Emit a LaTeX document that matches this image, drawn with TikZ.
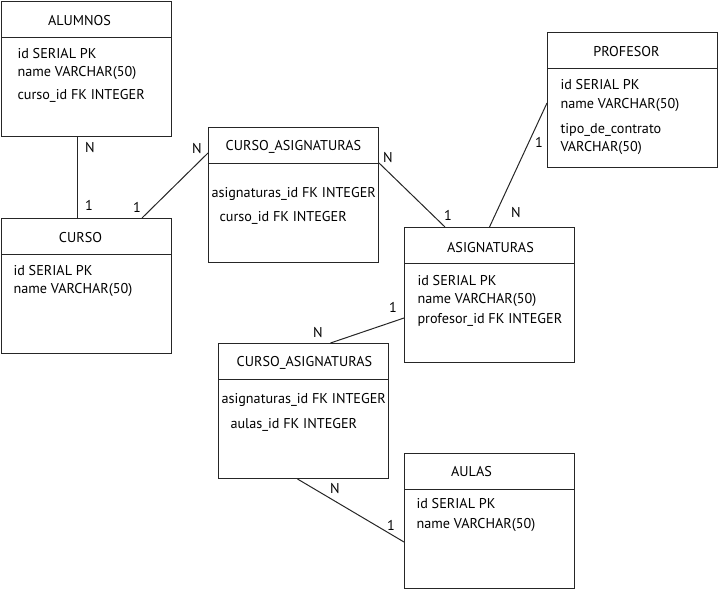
\documentclass[tikz,border=0pt]{standalone}
\usepackage{fontspec}
\setmainfont{PT Sans}
\usetikzlibrary{positioning}

\begin{document}
\begin{tikzpicture}[x=1pt,y=-1pt,line width=1pt,draw=black!85,
                    tabla/.style={draw=black!85,anchor=north west,minimum width=170pt,minimum height=135pt,inner sep=0pt},
                    titulo/.style={font=\fontsize{14.2}{16}\selectfont,inner sep=0pt},
                    campo/.style={font=\fontsize{14.2}{16}\selectfont,anchor=west,inner sep=0pt},
                    card/.style={font=\fontsize{14.2}{16}\selectfont,inner sep=0pt}]
                    \useasboundingbox (0,0) rectangle (718,589);

                    % tablas
                    \node[tabla] (alumnos) at (1,1) {};
                    \node[tabla] (curso) at (1,218) {};
                    \node[tabla] (cursoasig) at (208,127) {};
                    \node[tabla] (profesor) at (547,32) {};
                    \node[tabla] (asignaturas) at (404,227) {};
                    \node[tabla] (aulasasig) at (218,343) {};
                    \node[tabla] (aulas) at (404,453) {};

                    \foreach \t in {alumnos,curso,cursoasig,profesor,asignaturas,aulasasig,aulas}
                        \draw ([yshift=-36pt]\t.north west) -- ([yshift=-36pt]\t.north east);

                    % titulos
                    \node[titulo] (talumnos) at ([xshift=-7pt,yshift=-20pt]alumnos.north) {ALUMNOS};
                    \node[titulo] (tcurso) at ([xshift=-6pt,yshift=-20pt]curso.north) {CURSO};
                    \node[titulo] (tcursoasig) at ([yshift=-20pt]cursoasig.north) {CURSO\_ASIGNATURAS};
                    \node[titulo] (tprofesor) at ([xshift=-6pt,yshift=-20pt]profesor.north) {PROFESOR};
                    \node[titulo] (tasignaturas) at ([xshift=1pt,yshift=-21pt]asignaturas.north) {ASIGNATURAS};
                    \node[titulo] (taulasasig) at ([xshift=1pt,yshift=-20pt]aulasasig.north) {CURSO\_ASIGNATURAS};
                    \node[titulo] (taulas) at ([xshift=-18pt,yshift=-19pt]aulas.north) {AULAS};

                    % campos
                    \node[campo] (a1) at ([xshift=16pt,yshift=-53pt]alumnos.north west) {id SERIAL PK};
                    \node[campo] (a2) at ([xshift=16pt,yshift=-72pt]alumnos.north west) {name VARCHAR(50)};
                    \node[campo] (a3) at ([xshift=16pt,yshift=-95pt]alumnos.north west) {curso\_id FK INTEGER};

                    \node[campo] (c1) at ([xshift=12pt,yshift=-53pt]curso.north west) {id SERIAL PK};
                    \node[campo] (c2) at ([xshift=12pt,yshift=-72pt]curso.north west) {name VARCHAR(50)};

                    \node[campo] (ca1) at ([xshift=3pt,yshift=-67pt]cursoasig.north west) {asignaturas\_id FK INTEGER};
                    \node[campo] (ca2) at ([xshift=11pt,yshift=-91pt]cursoasig.north west) {curso\_id FK INTEGER};

                    \node[campo] (p1) at ([xshift=13pt,yshift=-53pt]profesor.north west) {id SERIAL PK};
                    \node[campo] (p2) at ([xshift=13pt,yshift=-73pt]profesor.north west) {name VARCHAR(50)};
                    \node[campo] (p3) at ([xshift=13pt,yshift=-98pt]profesor.north west) {tipo\_de\_contrato};
                    \node[campo] (p4) at ([xshift=13pt,yshift=-116pt]profesor.north west) {VARCHAR(50)};

                    \node[campo] (s1) at ([xshift=13pt,yshift=-54pt]asignaturas.north west) {id SERIAL PK};
                    \node[campo] (s2) at ([xshift=13pt,yshift=-73pt]asignaturas.north west) {name VARCHAR(50)};
                    \node[campo] (s3) at ([xshift=13pt,yshift=-93pt]asignaturas.north west) {profesor\_id FK INTEGER};

                    \node[campo] (u1) at ([xshift=3pt,yshift=-57pt]aulasasig.north west) {asignaturas\_id FK INTEGER};
                    \node[campo] (u2) at ([xshift=12pt,yshift=-82pt]aulasasig.north west) {aulas\_id FK INTEGER};

                    \node[campo] (l1) at ([xshift=12pt,yshift=-51pt]aulas.north west) {id SERIAL PK};
                    \node[campo] (l2) at ([xshift=12pt,yshift=-72pt]aulas.north west) {name VARCHAR(50)};

                    % relaciones
                    \draw ([xshift=-9pt]alumnos.south) -- ([xshift=-9pt]curso.north);
                    \draw ([xshift=-30pt]curso.north east) -- ([yshift=-26pt]cursoasig.north west);
                    \draw ([yshift=-36pt]cursoasig.north east) -- ([xshift=41pt]asignaturas.north west);
                    \draw (asignaturas.north) -- ([yshift=-71pt]profesor.north west);
                    \draw ([xshift=27pt]aulasasig.north) -- ([yshift=-91pt]asignaturas.north west);
                    \draw ([xshift=-6pt]aulasasig.south) -- ([yshift=-89pt]aulas.north west);

                    % cardinalidades
                    \node[card] (n1) at (90,148) {N};
                    \node[card] (u1c) at (89,205) {1};
                    \node[card] (u2c) at (137,207) {1};
                    \node[card] (n2) at (197,149) {N};
                    \node[card] (n3) at (388,158) {N};
                    \node[card] (u3c) at (448,215) {1};
                    \node[card] (u4c) at (539,142) {1};
                    \node[card] (n4) at (516,213) {N};
                    \node[card] (n5) at (318,333) {N};
                    \node[card] (u5c) at (393,307) {1};
                    \node[card] (n6) at (335,489) {N};
                    \node[card] (u6c) at (391,525) {1};
\end{tikzpicture}
\end{document}
